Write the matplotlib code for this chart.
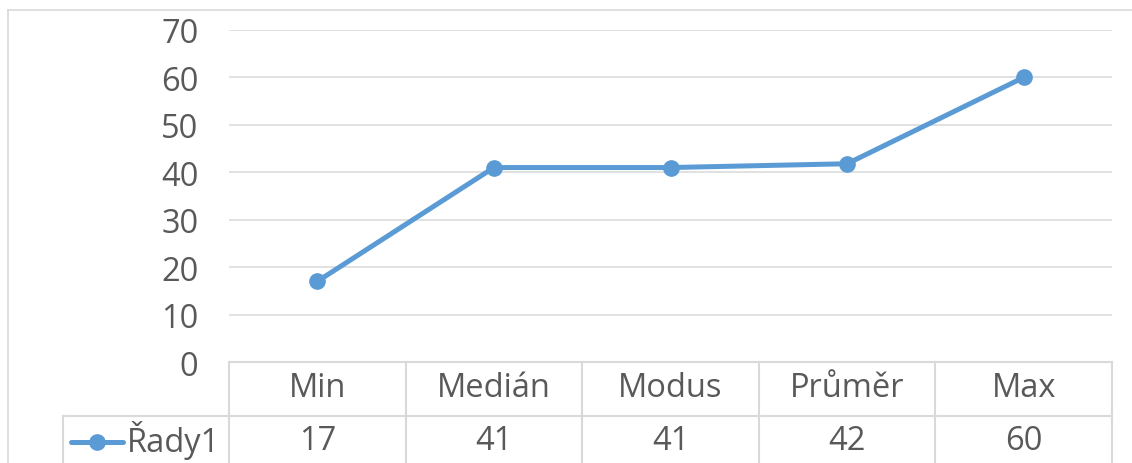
import matplotlib
matplotlib.use("Agg")
import matplotlib.pyplot as plt
from matplotlib.lines import Line2D
from matplotlib.transforms import blended_transform_factory

categories = ["Min", "Medián", "Modus", "Průměr", "Max"]
values = [17, 41, 41, 41.8, 60]
table_labels = ["17", "41", "41", "42", "60"]
series_name = "Řady1"
yticks = [0, 10, 20, 30, 40, 50, 60, 70]

W, H = 1132, 464
plt.rcParams['font.family'] = ['Open Sans', 'DejaVu Sans']
TEXT = '#595959'
GRID = '#d9d9d9'
BLUE = '#5b9bd5'
FS = 23.5

fig = plt.figure(figsize=(W / 100, H / 100), dpi=100)

def fx(px):
    return px / W

def fy(py):
    return 1 - py / H

left, right, top, bottom = 229, 1112, 31, 363
ax = fig.add_axes([fx(left), fy(bottom), fx(right) - fx(left), fy(top) - fy(bottom)])
ax.set_xlim(-0.5, len(categories) - 0.5)
ax.set_ylim(0, 70)
for s in ax.spines.values():
    s.set_visible(False)
ax.set_xticks([])
ax.set_yticks(yticks)
ax.tick_params(axis='y', length=0, pad=22, labelsize=FS, labelcolor=TEXT)
ax.yaxis.grid(True, color=GRID, linewidth=1.1)
ax.set_axisbelow(True)
ax.patch.set_alpha(0)

ax.plot(range(len(categories)), values, color=BLUE, linewidth=3.6,
        marker='o', markersize=11, solid_capstyle='round', zorder=3, clip_on=False)

# chart area border
fig.add_artist(Line2D([fx(8), fx(8)], [fy(11), 0], color=GRID, linewidth=1.2))
fig.add_artist(Line2D([fx(8), 1], [fy(11), fy(11)], color=GRID, linewidth=1.2))

# data table
row_sep = 417
fig.add_artist(Line2D([fx(left), fx(right)], [fy(bottom), fy(bottom)], color=GRID, linewidth=1.5))
fig.add_artist(Line2D([fx(63), fx(right)], [fy(row_sep), fy(row_sep)], color=GRID, linewidth=1.5))
fig.add_artist(Line2D([fx(63), fx(63)], [fy(row_sep), 0], color=GRID, linewidth=1.5))
ncat = len(categories)
colw = (right - left) / ncat
for i in range(ncat + 1):
    x = left + i * colw
    fig.add_artist(Line2D([fx(x), fx(x)], [fy(bottom), 0], color=GRID, linewidth=1.5))

trans = blended_transform_factory(ax.transData, fig.transFigure)
for i, (c, v) in enumerate(zip(categories, table_labels)):
    fig.text(i, fy(389), c, transform=trans, ha='center', va='center',
             fontsize=FS, color=TEXT)
    fig.text(i, fy(441), v, transform=trans, ha='center', va='center',
             fontsize=FS, color=TEXT)

# legend key
fig.add_artist(Line2D([fx(71), fx(123)], [fy(443), fy(443)], color=BLUE, linewidth=3.6,
                      solid_capstyle='round'))
fig.add_artist(Line2D([fx(97)], [fy(443)], color=BLUE, marker='o', markersize=11,
                      linestyle='none'))
fig.text(fx(127), fy(441), series_name, ha='left', va='center', fontsize=FS, color=TEXT)

fig.savefig("out.png", dpi=100)
